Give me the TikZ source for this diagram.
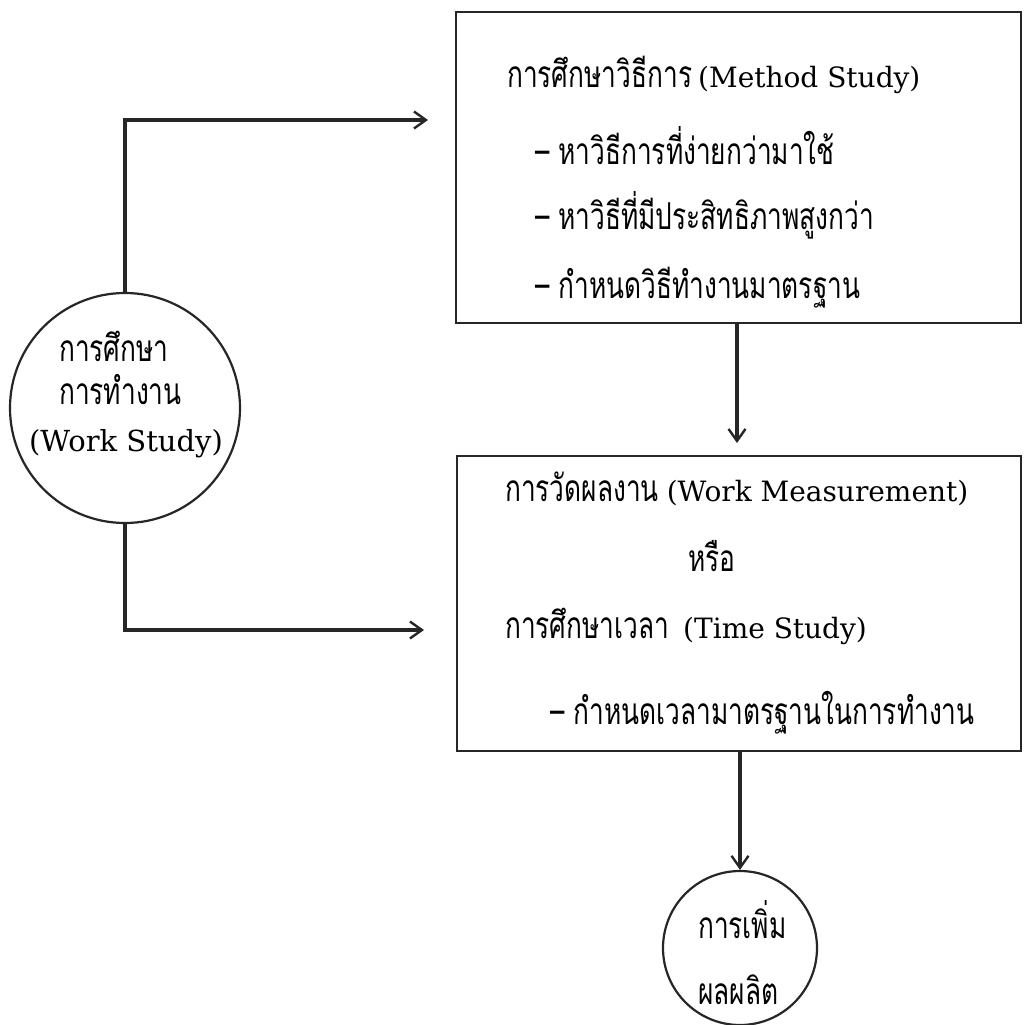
\documentclass[tikz,border=0pt]{standalone}
\usepackage{fontspec}
\setmainfont{DejaVu Serif}
\newfontfamily\thai[Script=Thai,FakeStretch=0.71]{Loma}
\usetikzlibrary{arrows.meta}
\begin{document}
\begin{tikzpicture}[x=1pt,y=-1pt,
  conn/.style={line width=3.4pt, draw=black!85, -{Straight Barb[length=12pt,width=17pt,line width=2.4pt]}},
  frame/.style={draw=black!85, line width=2pt, inner sep=0pt, anchor=north west},
  ring/.style={draw=black!85, line width=2.2pt, circle, inner sep=0pt},
  th/.style={font=\fontsize{37}{44}\thai},
  txt/.style={anchor=base west, inner sep=0pt, font=\fontsize{28}{36}\selectfont},
  ctxt/.style={anchor=base, inner sep=0pt, font=\fontsize{29}{36}\selectfont}]
\useasboundingbox (0,0) rectangle (1023,1025);
% boxes and circles
\node[frame, minimum width=565pt, minimum height=311pt] (box1) at (455,11) {};
\node[frame, minimum width=564pt, minimum height=295pt] (box2) at (456,455) {};
\node[ring, minimum size=230pt] (ws) at (125,408) {};
\node[ring, minimum size=154pt] (prod) at (740,948) {};
% texts in box1
\node[txt] (m0) at (507,88) {{\fontsize{37}{44}\thai การศึกษาวิธีการ}\hspace{6pt}(Method Study)};
\node[txt,th] (m1) at (535,164) {– หาวิธีการที่ง่ายกว่ามาใช้};
\node[txt,th] (m2) at (535,229) {– หาวิธีที่มีประสิทธิภาพสูงกว่า};
\node[txt,th] (m3) at (535,298) {– กำหนดวิธีทำงานมาตรฐาน};
% texts in box2
\node[txt] (w0) at (505,501) {{\fontsize{37}{44}\thai การวัดผลงาน}\hspace{8pt}(Work Measurement)};
\node[ctxt,th] (w1) at (712,571) {หรือ};
\node[txt] (w2) at (505,638) {{\fontsize{37}{44}\thai การศึกษาเวลา}\hspace{14pt}(Time Study)};
\node[txt,th] (w3) at (550,724) {– กำหนดเวลามาตรฐานในการทำงาน};
% circle texts
\node[txt,th] (c0) at (59,361) {การศึกษา};
\node[txt,th] (c1) at (59,404) {การทำงาน};
\node[ctxt] (c2) at (126,451) {(Work Study)};
\node[txt,th] (p0) at (698,938) {การเพิ่ม};
\node[txt,th] (p1) at (698,1004) {ผลผลิต};
% connectors
\coordinate (tl) at (125,120);
\coordinate (ta) at (428,120);
\coordinate (bl) at (125,630);
\coordinate (ba) at (424,630);
\coordinate (ma) at (737,443);
\draw[conn] (ws.north) -- (tl) -- (ta);
\draw[conn] (ws.south) -- (bl) -- (ba);
\draw[conn] (box1.south -| ma) -- (ma);
\draw[conn] (box2.south -| prod.north) -- (prod.north);
\end{tikzpicture}
\end{document}
